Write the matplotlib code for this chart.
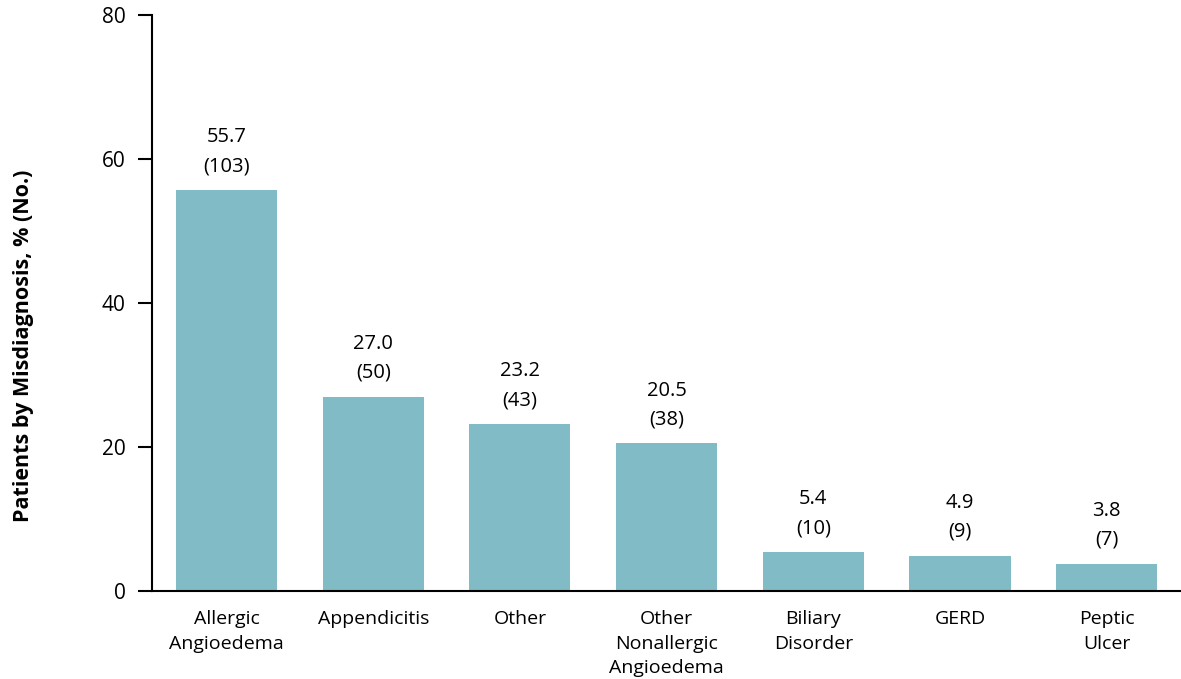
import matplotlib
matplotlib.use("Agg")
import matplotlib.pyplot as plt
import numpy as np

categories = [
    "Allergic\nAngioedema",
    "Appendicitis",
    "Other",
    "Other\nNonallergic\nAngioedema",
    "Biliary\nDisorder",
    "GERD",
    "Peptic\nUlcer",
]
percent = [55.7, 27.0, 23.2, 20.5, 5.4, 4.9, 3.8]
counts = [103, 50, 43, 38, 10, 9, 7]
y_ticks = [0, 20, 40, 60, 80]

plt.rcParams['font.family'] = ['Open Sans', 'DejaVu Sans']

fig = plt.figure(figsize=(11.81, 6.79), dpi=100)
ax = fig.add_axes([0.1287, 0.1296, 0.8713, 0.8483])

x = np.arange(len(categories))
ax.bar(x, percent, width=0.69, color='#80bbc6', zorder=2)

for xi, pct, n in zip(x, percent, counts):
    ax.annotate(f"{pct:.1f}\n({n})", (xi, pct), xytext=(0, 10),
                textcoords='offset points', ha='center', va='bottom',
                fontsize=14.5, linespacing=1.6)

ax.set_xlim(-0.508, 6.507)
ax.set_ylim(0, 80)
ax.set_yticks(y_ticks)
ax.set_xticks(x)
ax.set_xticklabels(categories, fontsize=14, linespacing=1.45, va='top')
ax.tick_params(axis='x', length=0, pad=14)
ax.tick_params(axis='y', length=10, width=1.5, pad=9, labelsize=15)

for side in ('top', 'right'):
    ax.spines[side].set_visible(False)
for side in ('left', 'bottom'):
    ax.spines[side].set_linewidth(1.5)

ax.set_ylabel('Patients by Misdiagnosis, % (No.)', fontsize=15.5,
              fontweight='bold')
ax.yaxis.set_label_coords(-0.115, 0.425)

fig.savefig('out.png', dpi=100)
plt.close(fig)
